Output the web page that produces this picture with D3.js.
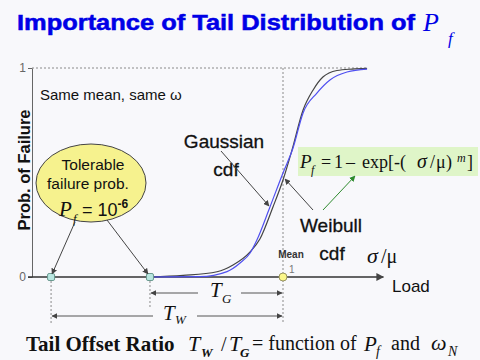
<!DOCTYPE html>
<html><head><meta charset="utf-8">
<script src="https://cdn.jsdelivr.net/npm/d3@7"></script>
<style>body{margin:0;background:#f8f8fb;}svg{display:block;}</style>
</head><body><svg id="c" width="480" height="360"></svg>
<script>
// ---- data ----
const weibullLoad = [0.470,0.602,0.737,0.801,0.869,0.908,0.960,1.000,1.036,1.080,1.120,1.159,1.215,1.275,1.335];
const weibullProb = [0,0.008,0.025,0.057,0.120,0.182,0.335,0.464,0.608,0.799,0.895,0.957,0.988,0.995,0.998];
const gaussLoad = [0.470,0.669,0.777,0.829,0.869,0.896,0.948,1.000,1.040,1.080,1.135,1.187,1.255,1.335];
const gaussProb = [0,0.0015,0.026,0.067,0.115,0.177,0.335,0.498,0.617,0.785,0.880,0.943,0.981,0.995];
const tolerableLoads = [0.076, 0.470];   // load where Pf = 1e-6 (Weibull, Gaussian)
const meanLoad = 1;
const yTicks = [0, 1];
const loadMax = 1.4;

const svg = d3.select("#c");
const SANS = "Liberation Sans, Arial, sans-serif";
const SERIF = "Liberation Serif, Times New Roman, serif";
svg.append("rect").attr("width",480).attr("height",360).attr("fill","#f8f8fb");

const x = d3.scaleLinear().domain([0, loadMax]).range([32, 32 + loadMax*251]);
const y = d3.scaleLinear().domain([0, 1]).range([277, 68]);

const defs = svg.append("defs");
function marker(id, color, size){
  defs.append("marker").attr("id",id).attr("viewBox","0 0 10 10").attr("refX",9).attr("refY",5)
    .attr("markerWidth",size).attr("markerHeight",size).attr("orient","auto-start-reverse")
    .append("path").attr("d","M0,0L10,5L0,10z").attr("fill",color);
}
marker("ag","#444",6); marker("agr","#2e8b2e",6);

// title
svg.append("text").attr("x",17).attr("y",30).attr("font-family",SANS).attr("font-weight","bold").attr("fill","#0000e6")
  .attr("stroke","#0000e6").attr("stroke-width",0.5)
  .attr("font-size",21.5).attr("textLength",398).attr("lengthAdjust","spacingAndGlyphs").text("Importance of Tail Distribution of");
svg.append("text").attr("x",423).attr("y",31).attr("font-family",SERIF).attr("font-style","italic").attr("font-size",26).attr("fill","#0000e6").text("P");
svg.append("text").attr("x",448).attr("y",44).attr("font-family",SERIF).attr("font-style","italic").attr("font-size",17).attr("fill","#0000e6").text("f");

// dashed guides
function dline(x1,y1,x2,y2){return svg.append("line").attr("x1",x1).attr("y1",y1).attr("x2",x2).attr("y2",y2)
  .attr("stroke","#8a8a8a").attr("stroke-width",1).attr("stroke-dasharray","2,2");}
dline(x(0), y(1), x(1.335), y(1));
dline(x(meanLoad), y(1), x(meanLoad), 323);
dline(x(tolerableLoads[0]), y(0), x(tolerableLoads[0]), 325);
dline(x(tolerableLoads[1]), y(0), x(tolerableLoads[1]), 307);

// y axis
const yAxis = svg.append("g").attr("transform",`translate(${x(0)},0)`)
  .call(d3.axisLeft(y).tickValues(yTicks).tickSize(4).tickSizeOuter(0).tickPadding(2).tickFormat(d3.format("d")));
yAxis.selectAll("path,line").attr("stroke","#666");
yAxis.selectAll("text").attr("font-family",SANS).attr("font-size",12).attr("fill","#666");

// x axis with arrow
svg.append("line").attr("x1",28).attr("y1",y(0)).attr("x2",x(loadMax)).attr("y2",y(0))
  .attr("stroke","#333").attr("stroke-width",1.3).attr("marker-end","url(#ag)");

// curves
const line = d3.line().x(d=>x(d[0])).y(d=>y(d[1])).curve(d3.curveMonotoneX);
svg.append("path").datum(weibullLoad.map((v,i)=>[v,weibullProb[i]])).attr("d",line)
  .attr("fill","none").attr("stroke","#444").attr("stroke-width",1.2);
svg.append("path").datum(gaussLoad.map((v,i)=>[v,gaussProb[i]])).attr("d",line)
  .attr("fill","none").attr("stroke","#5050f0").attr("stroke-width",1.2);

// points
svg.selectAll("rect.tp").data(tolerableLoads).enter().append("rect").attr("class","tp")
  .attr("x",d=>x(d)-3.5).attr("y",y(0)-3.5).attr("width",7).attr("height",7).attr("rx",1.5)
  .attr("fill","#b8e6e0").attr("stroke","#6a9a90").attr("stroke-width",1);
svg.append("circle").attr("cx",x(meanLoad)).attr("cy",y(0)).attr("r",4)
  .attr("fill","#fbf78a").attr("stroke","#9a9660").attr("stroke-width",1);

// labels near axes
svg.append("text").attr("transform","translate(30,170) rotate(-90)").attr("text-anchor","middle")
  .attr("font-family",SANS).attr("font-weight","bold").attr("font-size",16.5).attr("fill","#111").text("Prob. of Failure");
svg.append("text").attr("x",40).attr("y",100).attr("font-family",SANS).attr("font-size",15).attr("fill","#111").text("Same mean, same ω");
svg.append("text").attr("x",x(meanLoad)+8).attr("y",258).attr("text-anchor","middle").attr("font-family",SANS).attr("font-weight","bold").attr("font-size",10).attr("fill","#333").text("Mean");
svg.append("text").attr("x",x(meanLoad)+6).attr("y",273).attr("font-family",SANS).attr("font-size",10).attr("fill","#777").text(meanLoad);
const sm = svg.append("text").attr("y",263).attr("font-family",SERIF).attr("fill","#111");
sm.append("tspan").attr("x",367).attr("font-style","italic").attr("font-size",22).text("σ");
sm.append("tspan").attr("x",381).attr("font-size",20).text("/μ");
svg.append("text").attr("x",392).attr("y",292).attr("font-family",SANS).attr("font-size",17).attr("fill","#111").text("Load");

// ellipse callout
svg.append("ellipse").attr("cx",91).attr("cy",183).attr("rx",55).attr("ry",39).attr("fill","#f6f28e").attr("stroke","#444").attr("stroke-width",1);
svg.append("text").attr("x",93).attr("y",170).attr("text-anchor","middle").attr("font-family",SANS).attr("font-size",15.5).attr("fill","#111").text("Tolerable");
svg.append("text").attr("x",88).attr("y",189).attr("text-anchor","middle").attr("font-family",SANS).attr("font-size",15.5).attr("fill","#111").text("failure prob.");
svg.append("text").attr("x",59).attr("y",216).attr("font-family",SERIF).attr("font-style","italic").attr("font-size",21).attr("fill","#111").text("P");
svg.append("text").attr("x",73).attr("y",223).attr("font-family",SERIF).attr("font-style","italic").attr("font-size",13).attr("fill","#111").text("f");
const pw = svg.append("text").attr("x",82).attr("y",216).attr("font-family",SANS).attr("font-size",18).attr("fill","#111");
pw.append("tspan").text("= 10");
pw.append("tspan").attr("dy",-8).attr("font-size",12).attr("font-weight","bold").text("-6");
svg.append("line").attr("x1",75).attr("y1",222).attr("x2",x(tolerableLoads[0])+1).attr("y2",y(0)-3).attr("stroke","#444").attr("marker-end","url(#ag)");
svg.append("line").attr("x1",107).attr("y1",220).attr("x2",x(tolerableLoads[1])-2).attr("y2",y(0)-3).attr("stroke","#444").attr("marker-end","url(#ag)");

// Gaussian / Weibull labels
function lab(t,xx,yy){svg.append("text").attr("x",xx).attr("y",yy).attr("text-anchor","middle").attr("font-family",SANS).attr("font-size",19).attr("fill","#111").attr("stroke","#111").attr("stroke-width",0.3).text(t);}
lab("Gaussian",224,148); lab("cdf",226,176);
lab("Weibull",331,232); lab("cdf",332,260);
svg.append("line").attr("x1",221).attr("y1",151).attr("x2",269).attr("y2",206).attr("stroke","#444").attr("marker-end","url(#ag)");
svg.append("line").attr("x1",313).attr("y1",210).attr("x2",285).attr("y2",179).attr("stroke","#444").attr("marker-end","url(#ag)");

// formula box
svg.append("rect").attr("x",298).attr("y",147).attr("width",180).attr("height",29).attr("fill","#dff5c8");
function ft(t,xx,yy,size,it){svg.append("text").attr("x",xx).attr("y",yy).attr("font-family",SERIF).attr("font-size",size).attr("font-style",it?"italic":"normal").attr("fill","#111").text(t);}
ft("P",300,168,19,true); ft("f",311,174,12,true); ft("=",321,168,18); ft("1",334,168,18); ft("–",346,168,18);
ft("exp[-(",362,168,18); ft("σ",417,168,20,true); ft("/",430,168,18); ft("μ",436,168,18); ft(")",446,168,18);
ft("m",457,162,12,true); ft("]",467,168,18);
svg.append("line").attr("x1",323).attr("y1",210).attr("x2",355).attr("y2",176).attr("stroke","#2e8b2e").attr("marker-end","url(#agr)");

// T_G and T_W dimension arrows
function dim(yy,x1,x2,gap1,gap2){
  svg.append("line").attr("x1",gap1).attr("y1",yy).attr("x2",x1+1).attr("y2",yy).attr("stroke","#555").attr("marker-end","url(#ag)");
  svg.append("line").attr("x1",gap2).attr("y1",yy).attr("x2",x2-1).attr("y2",yy).attr("stroke","#555").attr("marker-end","url(#ag)");
}
dim(293, x(tolerableLoads[1]), x(meanLoad), 198, 241);
dim(316, x(tolerableLoads[0]), x(meanLoad), 153, 197);
ft("T",210,297,21,true); ft("G",222,303,13,true);
ft("T",163,320,21,true); ft("W",175,324,13,true);

// bottom line
svg.append("text").attr("x",26).attr("y",351).attr("font-family",SERIF).attr("font-weight","bold").attr("font-size",21).attr("fill","#111").text("Tail Offset Ratio");
ft("T",188,351,22,true);
svg.append("text").attr("x",201).attr("y",357).attr("font-family",SERIF).attr("font-weight","bold").attr("font-style","italic").attr("font-size",13).attr("fill","#111").text("W");
ft("/",221,351,20); ft("T",229,351,22,true);
svg.append("text").attr("x",240).attr("y",357).attr("font-family",SERIF).attr("font-weight","bold").attr("font-style","italic").attr("font-size",13).attr("fill","#111").text("G");
ft("= function of",252,350,20);
ft("P",364,351,21,true); ft("f",376,356,14,true);
ft("and",391,350,20); ft("ω",431,350,22,true); ft("N",448,356,14,true);
</script></body></html>
